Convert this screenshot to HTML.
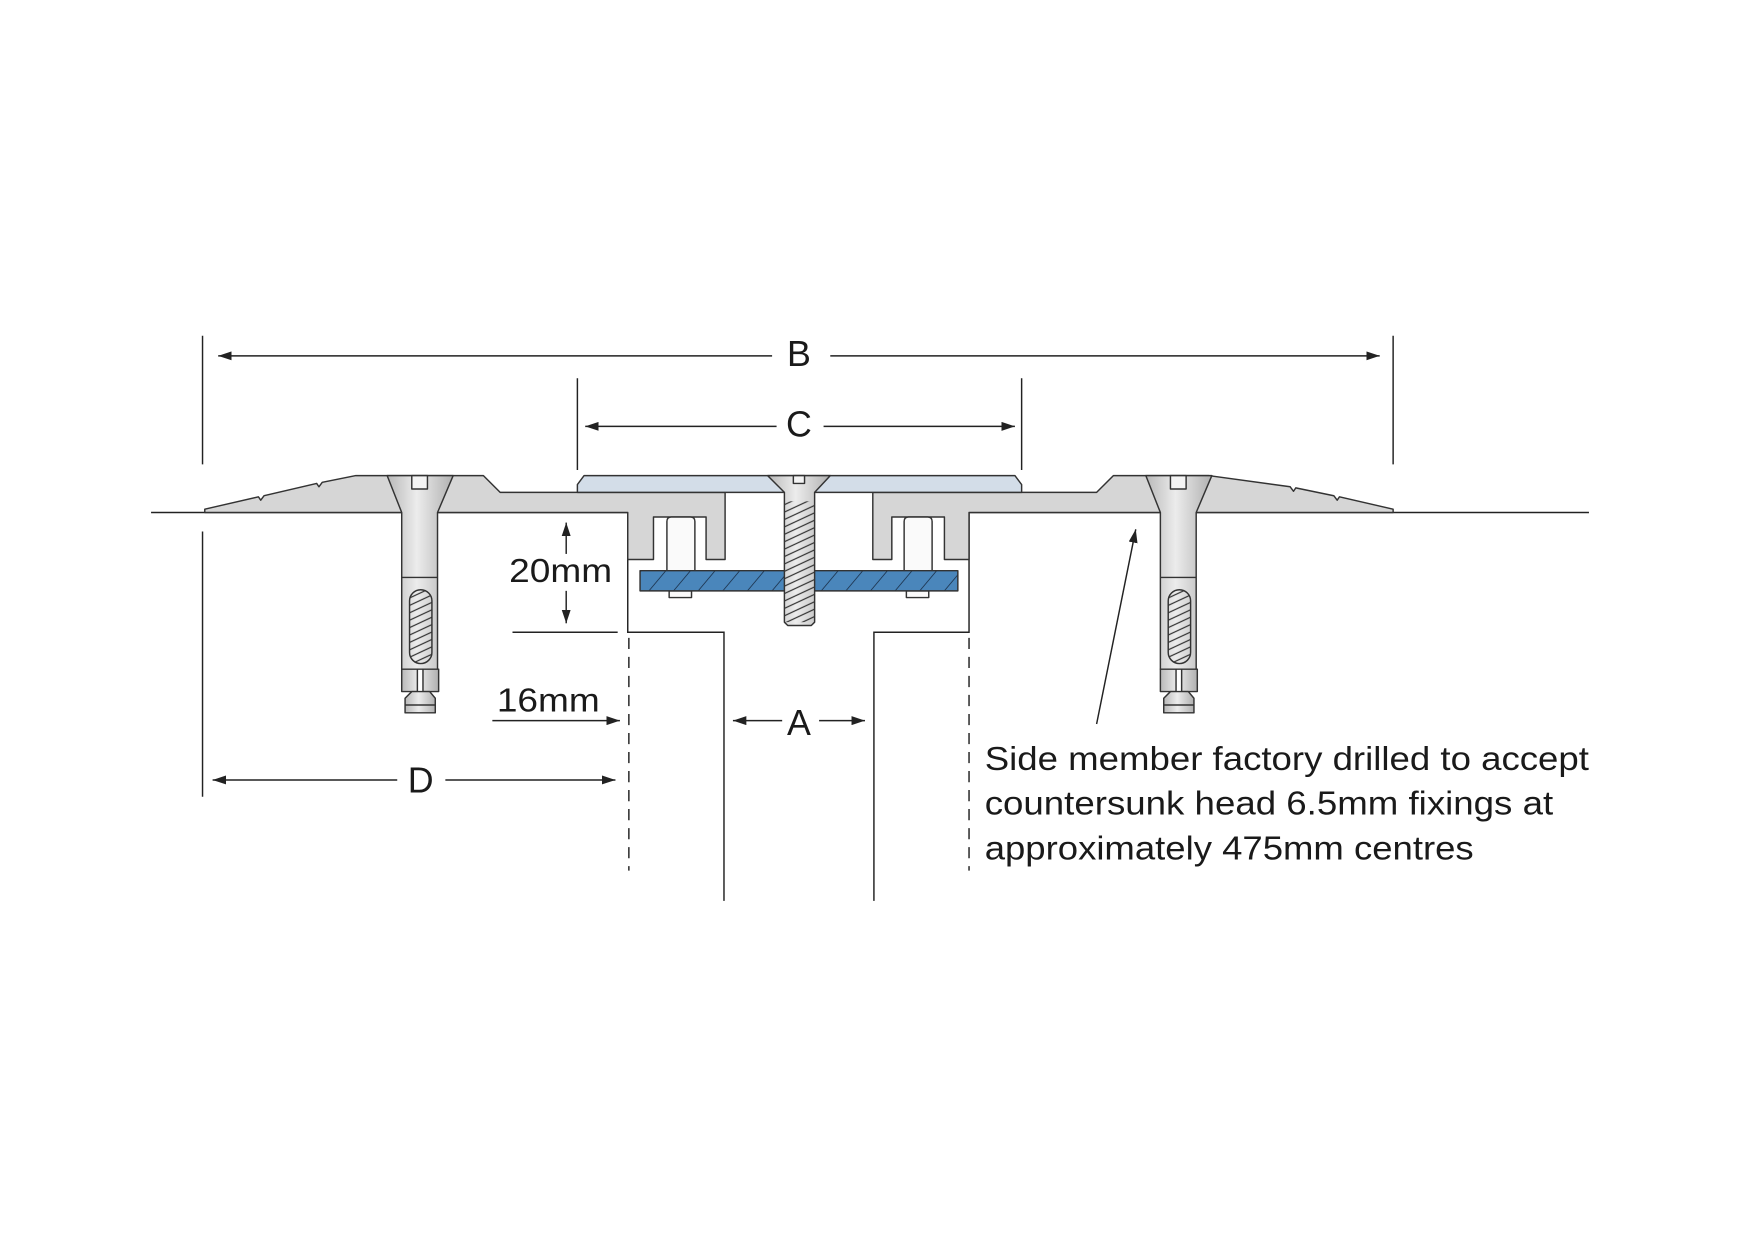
<!DOCTYPE html>
<html><head><meta charset="utf-8"><style>html,body{margin:0;padding:0;background:#fff}svg{display:block}</style></head>
<body>
<svg width="1754" height="1241" viewBox="0 0 1567.5 1109" preserveAspectRatio="none" xmlns="http://www.w3.org/2000/svg" font-family="Liberation Sans, sans-serif">
<defs>
<marker id="ar" markerWidth="12" markerHeight="8" refX="12" refY="4" orient="auto" markerUnits="userSpaceOnUse"><path d="M0,0 L12,4 L0,8 z" fill="#222"/></marker>
<linearGradient id="bg" x1="0" x2="1" y1="0" y2="0"><stop offset="0" stop-color="#b8b8b8"/><stop offset="0.45" stop-color="#ececec"/><stop offset="1" stop-color="#b0b0b0"/></linearGradient>
<pattern id="hb" width="22" height="20" patternUnits="userSpaceOnUse" patternTransform="skewX(-40)"><rect width="22" height="20" fill="#4a86bb"/><line x1="11" y1="0" x2="11" y2="20" stroke="#1d3550" stroke-width="1"/></pattern>
<pattern id="th" width="30" height="6" patternUnits="userSpaceOnUse" patternTransform="rotate(-25)"><rect width="30" height="6" fill="none"/><line x1="0" y1="3" x2="30" y2="3" stroke="#333" stroke-width="1"/></pattern>
</defs>
<g stroke="#222" stroke-width="1.3" fill="none">
<line x1="135" y1="458" x2="561" y2="458"/>
<line x1="866" y1="458" x2="1420" y2="458"/>
<line x1="181" y1="300" x2="181" y2="415"/>
<line x1="181" y1="475" x2="181" y2="712"/>
<line x1="1245" y1="300" x2="1245" y2="415"/>
<line x1="690" y1="318" x2="195" y2="318" marker-end="url(#ar)"/>
<line x1="742" y1="318" x2="1233" y2="318" marker-end="url(#ar)"/>
<line x1="516" y1="338" x2="516" y2="420"/>
<line x1="913" y1="338" x2="913" y2="420"/>
<line x1="694" y1="381" x2="523" y2="381" marker-end="url(#ar)"/>
<line x1="736" y1="381" x2="907" y2="381" marker-end="url(#ar)"/>
<path d="M561 458 V565 H647 V805"/>
<path d="M866 458 V565 H781 V805"/>
<line x1="562" y1="570" x2="562" y2="778" stroke-dasharray="10,7"/>
<line x1="866" y1="570" x2="866" y2="778" stroke-dasharray="10,7"/>
<line x1="458" y1="565" x2="552" y2="565"/>
<line x1="506" y1="495" x2="506" y2="467" marker-end="url(#ar)"/>
<line x1="506" y1="528" x2="506" y2="557" marker-end="url(#ar)"/>
<line x1="440" y1="644" x2="554" y2="644" marker-end="url(#ar)"/>
<line x1="699" y1="644" x2="655" y2="644" marker-end="url(#ar)"/>
<line x1="732" y1="644" x2="773" y2="644" marker-end="url(#ar)"/>
<line x1="355" y1="697" x2="190" y2="697" marker-end="url(#ar)"/>
<line x1="398" y1="697" x2="550" y2="697" marker-end="url(#ar)"/>
<line x1="980" y1="647" x2="1015" y2="473" marker-end="url(#ar)"/>
</g>
<g stroke="#333" stroke-width="1.3" stroke-linejoin="round">
<path fill="#d6d6d6" d="M183 458 L183 455 L231 444 L233 447 L236 443 L283 432 L285 435 L288 431 L318 425 L432 425 L447 440 L648 440 L648 500 L631 500 L631 462 L584 462 L584 500 L561 500 L561 458 Z"/>
<path fill="#d6d6d6" d="M1245 458 L1245 455 L1197 444 L1195 447 L1192 443 L1158 436 L1156 439 L1153 435 L1080 425 L995 425 L980 440 L780 440 L780 500 L797 500 L797 462 L844 462 L844 500 L866 500 L866 458 Z"/>
<path fill="#d3dde8" d="M516 440 L516 433 L522 425 L907 425 L913 433 L913 440 Z"/>
<path fill="#fafafa" d="M596 512 V466 Q596 462 600 462 H617 Q621 462 621 466 V512 Z"/>
<path fill="#fafafa" d="M808 512 V466 Q808 462 812 462 H829 Q833 462 833 466 V512 Z"/>
<rect x="598" y="528" width="20" height="6" fill="#fafafa"/>
<rect x="810" y="528" width="20" height="6" fill="#fafafa"/>
<rect x="572" y="510" width="284" height="18" fill="url(#hb)"/>
<path fill="url(#bg)" d="M686 425 H742 L728 440 V556 L725 559 H704 L701 556 V440 Z"/>
<rect x="701" y="448" width="27" height="108" fill="url(#th)" stroke="none"/>
<rect x="709" y="425" width="10" height="7" fill="#f4f4f4"/>
<g id="anc">
<path fill="url(#bg)" d="M346 425 H405 L391 458 V598 H359 V458 Z"/>
<rect x="368" y="425" width="14" height="12" fill="#f4f4f4"/>
<line x1="359" y1="516" x2="391" y2="516"/>
<rect x="366" y="527" width="20" height="66" rx="10" fill="url(#th)"/>
<path fill="url(#bg)" d="M359 598 H373 V618 H359 Z M378 598 H392 V618 H378 Z"/>
<path fill="url(#bg)" d="M368 618 H384 L389 624 V637 H362 V624 Z"/>
<line x1="362" y1="630" x2="389" y2="630"/>
</g>
<use href="#anc" transform="translate(678,0)"/>
</g>
<g fill="#1a1a1a" font-size="32">
<text x="714" y="327" text-anchor="middle">B</text>
<text x="714" y="390" text-anchor="middle">C</text>
<text x="714" y="657" text-anchor="middle">A</text>
<text x="376" y="708" text-anchor="middle">D</text>
<text x="501" y="520" text-anchor="middle" font-size="30" textLength="92" lengthAdjust="spacingAndGlyphs">20mm</text>
<text x="490" y="636" text-anchor="middle" font-size="30" textLength="92" lengthAdjust="spacingAndGlyphs">16mm</text>
<g font-size="30">
<text x="880" y="688" textLength="540" lengthAdjust="spacingAndGlyphs">Side member factory drilled to accept</text>
<text x="880" y="728" textLength="508" lengthAdjust="spacingAndGlyphs">countersunk head 6.5mm fixings at</text>
<text x="880" y="768" textLength="437" lengthAdjust="spacingAndGlyphs">approximately 475mm centres</text>
</g>
</g>
</svg>
</body></html>
